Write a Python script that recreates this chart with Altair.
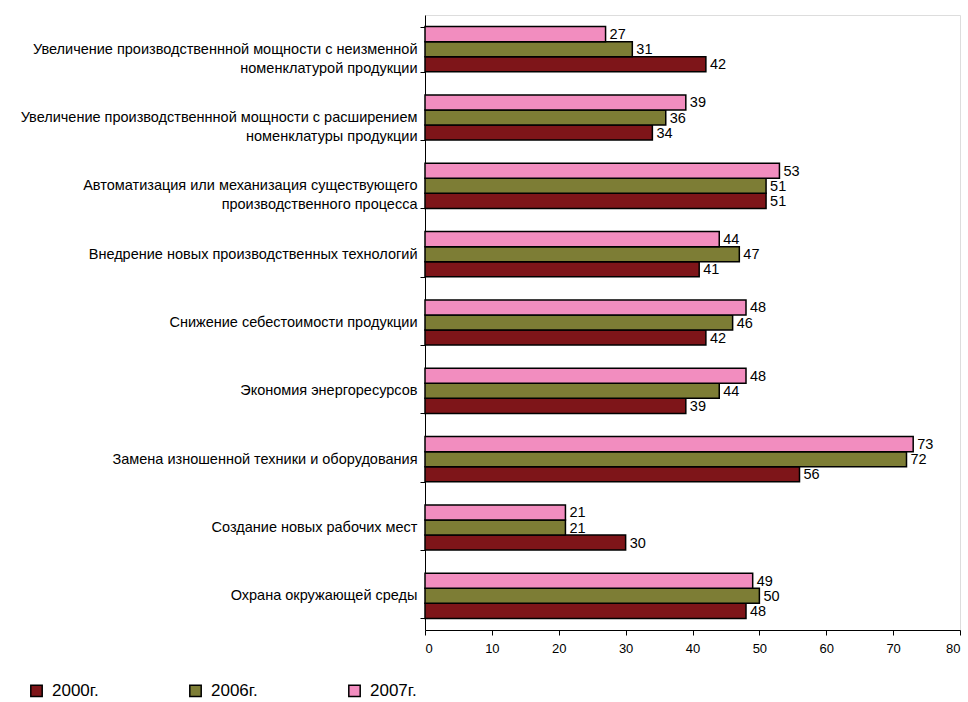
import altair as alt
import pandas as pd

categories = [
    "Увеличение производственнной мощности с неизменной|номенклатурой продукции",
    "Увеличение производственнной мощности с расширением|номенклатуры продукции",
    "Автоматизация или механизация существующего|производственного процесса",
    "Внедрение новых производственных технологий",
    "Снижение себестоимости продукции",
    "Экономия энергоресурсов",
    "Замена изношенной техники и оборудования",
    "Создание новых рабочих мест",
    "Охрана окружающей среды",
]
years = ["2000г.", "2006г.", "2007г."]
v2000 = [42, 34, 51, 41, 42, 39, 56, 30, 48]
v2006 = [31, 36, 51, 47, 46, 44, 72, 21, 50]
v2007 = [27, 39, 53, 44, 48, 48, 73, 21, 49]
colors = ["#7E1519", "#7D7D35", "#F28DBF"]

rows = []
for i, c in enumerate(categories):
    for y, vals in zip(years, [v2000, v2006, v2007]):
        rows.append({"cat": c, "year": y, "value": vals[i]})
df = pd.DataFrame(rows)

FONT = "Liberation Sans"

y_enc = alt.Y(
    "cat:N",
    sort=categories,
    title=None,
    scale=alt.Scale(paddingInner=0.34, paddingOuter=0.17),
    axis=alt.Axis(
        labelExpr="split(datum.label, '|')",
        labelFontSize=14.5,
        labelFont=FONT,
        labelColor="black",
        labelLineHeight=19,
        labelPadding=3,
        labelLimit=420,
        tickBand="extent",
        tickColor="black",
        tickSize=5,
        domainColor="black",
        domainWidth=1,
    ),
)
yoff = alt.YOffset("year:N", sort=["2007г.", "2006г.", "2000г."],
                   scale=alt.Scale(paddingInner=0, paddingOuter=0))
x_enc = alt.X(
    "value:Q",
    title=None,
    scale=alt.Scale(domain=[0, 80]),
    axis=alt.Axis(
        values=[0, 10, 20, 30, 40, 50, 60, 70, 80],
        grid=False,
        labelFontSize=13,
        labelFont=FONT,
        labelColor="black",
        labelPadding=7,
        tickColor="black",
        tickSize=5,
        domainColor="black",
        domainWidth=1,
    ),
)

bars = alt.Chart(df).mark_bar(stroke="black", strokeWidth=1.5).encode(
    y=y_enc,
    yOffset=yoff,
    x=x_enc,
    color=alt.Color(
        "year:N",
        scale=alt.Scale(domain=years, range=colors),
        legend=alt.Legend(
            title=None,
            orient="none",
            legendX=-397,
            legendY=667,
            direction="horizontal",
            symbolType="square",
            symbolSize=130,
            symbolStrokeColor="black",
            symbolStrokeWidth=1.5,
            labelFontSize=17,
            labelFont=FONT,
            labelColor="black",
            columnPadding=87,
            gridAlign="all",
            labelOffset=7,
        ),
    ),
)

labels = alt.Chart(df).mark_text(
    align="left", baseline="middle", dx=4, dy=1, fontSize=14.5, font=FONT, color="black"
).encode(
    y=alt.Y("cat:N", sort=categories),
    yOffset=yoff,
    x=alt.X("value:Q"),
    text="value:Q",
)

chart = (
    alt.layer(bars, labels)
    .properties(
        width=535,
        height=615,
        autosize=alt.AutoSizeParams(type="none"),
        padding={"left": 425, "top": 15, "right": 6, "bottom": 71},
    )
    .configure_view(stroke=None)
    .configure(background="white")
)

chart.save("out.html", embed_options={"renderer": "svg", "actions": False})
